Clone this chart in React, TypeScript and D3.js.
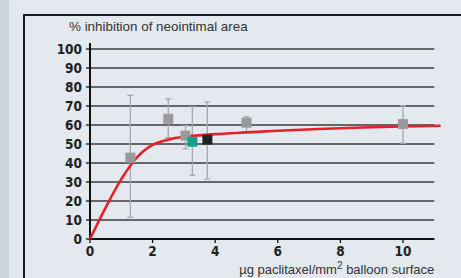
import * as d3 from "d3";

// chart frame inside the 461x278 picture
const WIDTH = 461;
const HEIGHT = 278;
const MARGIN = { top: 49, left: 90, right: 26, bottom: 39 };

const yTicks = [0, 10, 20, 30, 40, 50, 60, 70, 80, 90, 100];
const xTicks = [0, 2, 4, 6, 8, 10];

// measured points: dose, mean inhibition, error bar low/high, marker kind
const doses = [1.29, 2.5, 3.05, 3.27, 3.75, 5.0, 10.0];
const means = [42.8, 63.3, 54.4, 51.2, 52.3, 61.2, 60.5];
const errLow = [11.4, 53.3, 47.4, 33.5, 31.6, 56.3, 50.4];
const errHigh = [75.6, 73.8, 59.6, 69.6, 72.1, 64.4, 70.2];
const kinds = ["gray", "gray", "gray", "teal", "black", "gray", "gray"];

// fitted curve
const curveX = [0, 0.5, 1, 1.5, 2, 2.5, 3, 4, 5, 6, 8, 10, 11.2];
const curveY = [0, 16.5, 31.5, 43, 49.5, 52.3, 53.8, 55.2, 56.1, 57, 58.3, 59.2, 59.6];

const COLORS: Record<string, string> = {
  gray: "#9a9a9c",
  teal: "#14a08a",
  black: "#222222",
};

const TICK_FONT = "'Liberation Sans Narrow', 'DejaVu Sans Condensed', 'Arial Narrow', sans-serif";
const TEXT_FONT = "'Liberation Sans', Arial, sans-serif";

export default function App() {
  const x = d3.scaleLinear().domain([0, 10]).range([MARGIN.left, 403]);
  const y = d3.scaleLinear().domain([0, 100]).range([HEIGHT - MARGIN.bottom, MARGIN.top]);
  const xEnd = x(11);

  const line = d3
    .line<number>()
    .x((_, i) => x(curveX[i]))
    .y((d) => y(d))
    .curve(d3.curveCatmullRom.alpha(0.5));

  return (
    <svg
      width={WIDTH}
      height={HEIGHT}
      style={{ position: "absolute", left: 0, top: 0, display: "block" }}
    >
      <rect width={WIDTH} height={HEIGHT} fill="#e3e9ef" />
      <rect width={9} height={HEIGHT} fill="#c9d5e1" />
      {/* outer box */}
      <path d={`M24,${HEIGHT + 2} L24,15 L${WIDTH + 2},15`} fill="none" stroke="#1a1a1a" strokeWidth={2} />

      <text x={69} y={31} fontFamily={TEXT_FONT} fontSize={13.4} fill="#333">
        % inhibition of neointimal area
      </text>

      {/* gridlines + y labels */}
      {yTicks.map((t) => (
        <g key={t}>
          <line x1={x(0)} x2={xEnd} y1={y(t)} y2={y(t)} stroke="#3a3a3a" strokeWidth={1.3} />
          <line x1={x(0) - 4} x2={x(0)} y1={y(t)} y2={y(t)} stroke="#111" strokeWidth={1.3} />
          <text
            x={x(0) - 8}
            y={y(t)}
            dy="0.36em"
            textAnchor="end"
            fontFamily={TICK_FONT}
            fontWeight="bold"
            fontSize={13.5}
            fill="#222"
          >
            {t}
          </text>
        </g>
      ))}

      {/* axes */}
      <line x1={x(0)} x2={x(0)} y1={43} y2={y(0)} stroke="#111" strokeWidth={2} />
      <line x1={x(0)} x2={xEnd} y1={y(0)} y2={y(0)} stroke="#111" strokeWidth={2} />
      {xTicks.map((t) => (
        <g key={t}>
          <line x1={x(t)} x2={x(t)} y1={y(0)} y2={y(0) + 4} stroke="#111" strokeWidth={1.3} />
          <text
            x={x(t)}
            y={y(0) + 17}
            textAnchor="middle"
            fontFamily={TICK_FONT}
            fontWeight="bold"
            fontSize={13.5}
            fill="#222"
          >
            {t}
          </text>
        </g>
      ))}
      <text x={xEnd} y={274} textAnchor="end" fontFamily={TEXT_FONT} fontSize={13} fill="#333">
        µg paclitaxel/mm
        <tspan dy={-5} fontSize={10}>2</tspan>
        <tspan dy={5}> balloon surface</tspan>
      </text>

      {/* error bars */}
      {doses.map((d, i) => (
        <g key={"e" + i} stroke="#a8a8aa" strokeWidth={1.3}>
          <line x1={x(d)} x2={x(d)} y1={y(errLow[i])} y2={y(errHigh[i])} />
          <line x1={x(d) - 3} x2={x(d) + 3} y1={y(errLow[i])} y2={y(errLow[i])} />
          <line x1={x(d) - 3} x2={x(d) + 3} y1={y(errHigh[i])} y2={y(errHigh[i])} />
        </g>
      ))}

      <path d={line(curveY) || undefined} fill="none" stroke="#e8202c" strokeWidth={2.6} />

      {/* markers */}
      {doses.map((d, i) => (
        <rect
          key={"m" + i}
          x={x(d) - 5}
          y={y(means[i]) - 5}
          width={10}
          height={10}
          fill={COLORS[kinds[i]]}
        />
      ))}
    </svg>
  );
}
